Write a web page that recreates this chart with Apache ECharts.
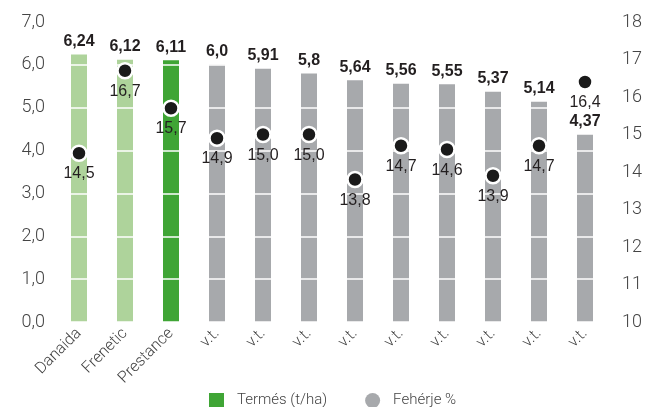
<!DOCTYPE html>
<html style="height: 407px;width: 648px;">
<head>
  <meta charset="UTF-8">
  <title>Termés és fehérje</title>
  <script src="https://cdn.jsdelivr.net/npm/echarts@6/dist/echarts.min.js"></script>
</head>
<body style="margin: 0;height: 100%;width: 100%;background: #fff;">
  <div id="chart" style="width: 648px;height: 407px;"></div>
<script>
  // fajták
  var fajtak = ['Danaida', 'Frenetic', 'Prestance', 'v.t.', 'v.t.', 'v.t.', 'v.t.', 'v.t.', 'v.t.', 'v.t.', 'v.t.', 'v.t.'];
  // termés t/ha
  var termes = [6.24, 6.12, 6.11, 6.0, 5.91, 5.8, 5.64, 5.56, 5.55, 5.37, 5.14, 4.37];
  var termesCimke = ['6,24', '6,12', '6,11', '6,0', '5,91', '5,8', '5,64', '5,56', '5,55', '5,37', '5,14', '4,37'];
  // fehérje %
  var feherje = [14.5, 16.7, 15.7, 14.9, 15.0, 15.0, 13.8, 14.7, 14.6, 13.9, 14.7, 16.4];
  var oszlopSzin = ['#aed39b', '#aed39b', '#3fa535', '#a7a9ac', '#a7a9ac', '#a7a9ac', '#a7a9ac', '#a7a9ac', '#a7a9ac', '#a7a9ac', '#a7a9ac', '#a7a9ac'];

  var vekony = 'Roboto';
  var kesk = '"Liberation Sans Narrow", "Liberation Sans", sans-serif';

  var oszlopok = termes.map(function (v, i) {
    return { value: v, itemStyle: { color: oszlopSzin[i] } };
  });

  var opt = {
    animation: false,
    grid: { left: 56, right: 40, top: 22, bottom: 85 },
    legend: {
      bottom: -6,
      left: 204,
      itemGap: 38,
      itemWidth: 15,
      itemHeight: 15,
      textStyle: { fontFamily: vekony, fontWeight: 300, fontSize: 15, color: '#444', padding: [0, 0, 0, 8] },
      data: [
        { name: 'Termés (t/ha)', icon: 'rect', itemStyle: { color: '#3fa535' } },
        { name: 'Fehérje %', icon: 'circle', itemStyle: { color: '#a7a9ac', borderWidth: 0 } }
      ]
    },
    xAxis: {
      type: 'category',
      data: fajtak,
      axisLine: { show: false },
      axisTick: { show: false },
      axisLabel: {
        rotate: 45, interval: 0, margin: 9,
        fontFamily: vekony, fontWeight: 300, fontSize: 16, color: '#444'
      }
    },
    yAxis: [{
      type: 'value', min: 0, max: 7, interval: 1, z: 5,
      axisLine: { show: false },
      axisTick: { show: false },
      splitLine: { lineStyle: { color: '#fff', width: 1.5 } },
      axisLabel: {
        margin: 11,
        fontFamily: vekony, fontWeight: 300, fontSize: 18, color: '#444',
        formatter: function (v) { return v.toFixed(1).replace('.', ','); }
      }
    }, {
      type: 'value', min: 10, max: 18, interval: 1,
      axisLine: { show: false },
      axisTick: { show: false },
      splitLine: { show: false },
      axisLabel: { margin: 14, fontFamily: vekony, fontWeight: 300, fontSize: 18, color: '#444' }
    }],
    series: [{
      name: 'Termés (t/ha)',
      type: 'bar',
      barWidth: 16,
      data: oszlopok
    }, {
      // csak a felirat, a rácsvonalak fölött
      name: 'felirat',
      type: 'bar',
      barWidth: 16,
      barGap: '-100%',
      z: 8,
      silent: true,
      itemStyle: { color: 'rgba(0,0,0,0)' },
      data: termes,
      label: {
        show: true, position: 'top', distance: 5,
        fontFamily: kesk, fontWeight: 'bold', fontSize: 16, color: '#231f20',
        formatter: function (p) { return termesCimke[p.dataIndex]; }
      }
    }, {
      name: 'Fehérje %',
      type: 'scatter',
      yAxisIndex: 1,
      z: 10,
      symbolSize: 15,
      data: feherje,
      itemStyle: { color: '#1a1a1a', borderColor: '#fff', borderWidth: 2.5, opacity: 1 },
      label: {
        show: true, position: 'bottom', distance: 4,
        fontFamily: kesk, fontSize: 16, color: '#231f20',
        formatter: function (p) { return p.value.toFixed(1).replace('.', ','); }
      }
    }]
  };

  var chart = echarts.init(document.getElementById('chart'));
  chart.setOption(opt);
</script>
</body>
</html>
